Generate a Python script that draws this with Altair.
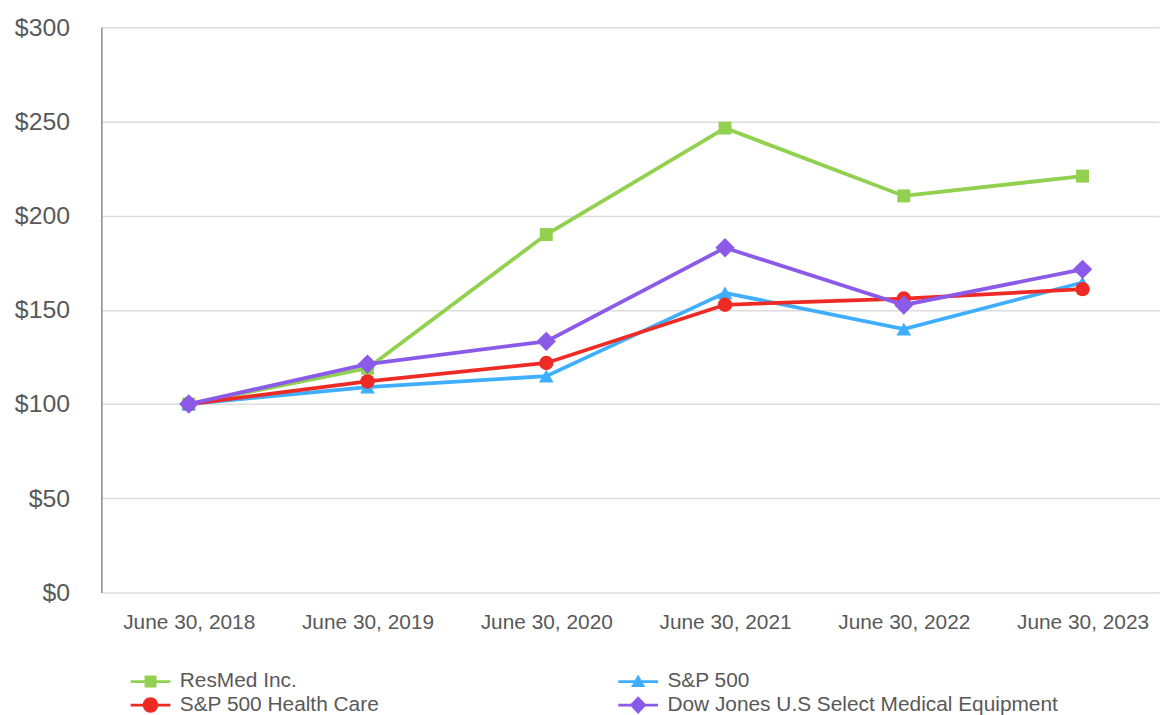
import json
import altair as alt
import pandas as pd

# ---- data ----
dates = ["June 30, 2018", "June 30, 2019", "June 30, 2020",
         "June 30, 2021", "June 30, 2022", "June 30, 2023"]
series_names = ["ResMed Inc.", "S&P 500", "S&P 500 Health Care",
                "Dow Jones U.S Select Medical Equipment"]
resmed = [100, 119, 190, 246.5, 210.5, 221]
sp500 = [100, 109, 114.8, 159, 139.8, 164.5]
sp_health = [100, 112, 121.8, 152.7, 156, 161]
dj_medical = [100, 121.2, 133.3, 183, 152.6, 171.5]
y_ticks = [0, 50, 100, 150, 200, 250, 300]
legend_order = ["ResMed Inc.", "S&P 500 Health Care", "S&P 500",
                "Dow Jones U.S Select Medical Equipment"]

# ---- styles ----
colors = ["#92D14F", "#3FAEFF", "#EE2A24", "#8B5AE8"]
shapes = ["square", "triangle-up", "circle", "diamond"]
sizes = [170, 220, 210, 380]
legend_paths = [
    "M-2,-0.14L2,-0.14L2,0.14L-2,0.14Z M-0.6,-0.6L0.6,-0.6L0.6,0.6L-0.6,0.6Z",
    "M-2,-0.14L2,-0.14L2,0.14L-2,0.14Z M-0.72,0.55L0,-0.7L0.72,0.55Z",
    "M-2,-0.14L2,-0.14L2,0.14L-2,0.14Z M-0.78,0A0.78,0.78 0 1,1 0.78,0A0.78,0.78 0 1,1 -0.78,0Z",
    "M-2,-0.14L2,-0.14L2,0.14L-2,0.14Z M0,-0.9L0.85,0L0,0.9L-0.85,0Z",
]
FONT = "Liberation Sans"
TEXT = "#595959"

rows = []
for name, vals in zip(series_names, [resmed, sp500, sp_health, dj_medical]):
    for i, v in enumerate(vals):
        rows.append({"idx": i, "date": dates[i], "series": name, "value": v})
df = pd.DataFrame(rows)

x_enc = alt.X(
    "idx:Q",
    scale=alt.Scale(domain=[-0.4889, 5.4278], nice=False, zero=False),
    axis=alt.Axis(values=list(range(len(dates))),
                  labelExpr=json.dumps(dates) + "[datum.value]",
                  title=None, grid=False, domain=False, ticks=False,
                  labelFontSize=21, labelColor=TEXT, labelFont=FONT,
                  labelPadding=19),
)
y_enc = alt.Y(
    "value:Q",
    scale=alt.Scale(domain=[0, 300], nice=False),
    axis=alt.Axis(values=y_ticks, labelExpr="'$' + datum.value",
                  title=None, grid=True, gridColor="#DCDCDC", gridWidth=1.5,
                  domain=True, domainColor="#888888", domainWidth=1.5,
                  ticks=False, labelFontSize=25, labelColor=TEXT,
                  labelFont=FONT, labelPadding=32),
)
color_scale = alt.Scale(domain=series_names, range=colors)

legend = alt.Legend(
    title=None, orient="none", legendX=39, legendY=648, columns=2,
    values=legend_order,
    columnPadding=240, rowPadding=2, labelFontSize=21, labelColor=TEXT,
    labelFont=FONT, labelOffset=19, labelLimit=0, symbolSize=400,
    symbolType=alt.ExprRef(expr=json.dumps(legend_paths) + "[indexof("
                           + json.dumps(series_names) + ", datum.value)]"),
    symbolFillColor=alt.ExprRef(expr="scale('color', datum.value)"),
    symbolStrokeWidth=0, symbolOpacity=1,
)

lines = alt.Chart(df).mark_line(strokeWidth=3.8).encode(
    x=x_enc, y=y_enc,
    color=alt.Color("series:N", scale=color_scale, legend=legend,
                    sort=series_names),
)

point_layers = []
for name, shp, sz in zip(series_names, shapes, sizes):
    point_layers.append(
        alt.Chart(df).transform_filter(alt.datum.series == name)
        .mark_point(filled=True, opacity=1, shape=shp, size=sz)
        .encode(x=x_enc, y=y_enc,
                color=alt.Color("series:N", scale=color_scale, legend=None,
                                sort=series_names))
    )

chart = alt.layer(lines, *point_layers).properties(
    width=1065, height=569,
    autosize=alt.AutoSizeParams(type="none"),
    padding={"left": 94, "top": 17, "right": 2, "bottom": 121},
    background="white",
).configure_view(stroke=None)

chart.save("out.html", embed_options={"renderer": "svg", "actions": False})
